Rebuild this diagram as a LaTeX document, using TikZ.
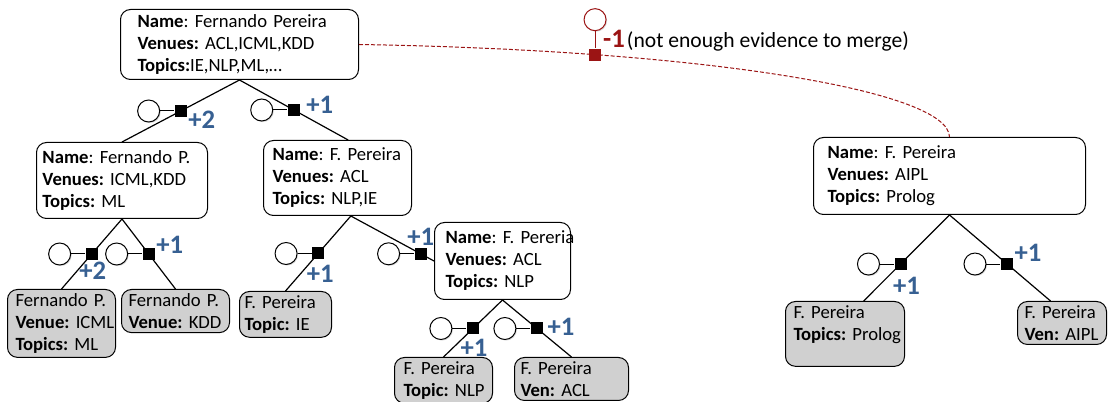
\documentclass[tikz,border=0pt]{standalone}
\usepackage{fontspec}
\setmainfont{Carlito}
\usetikzlibrary{positioning,shadows}
\definecolor{numblue}{RGB}{55,96,146}
\definecolor{mergered}{RGB}{155,20,20}
\definecolor{leafgray}{RGB}{208,208,208}
\hyphenpenalty=10000
\exhyphenpenalty=10000
\begin{document}
\begin{tikzpicture}[x=0.75pt, y=-0.75pt,
  every node/.style={font=\fontsize{14}{16.5}\selectfont},
  ent/.style 2 args={draw, line width=0.75pt, rounded corners=7.5pt, fill=white,
    anchor=north west, align=left, text width=#1, inner xsep=#2, inner ysep=3pt},
  leaf/.style 2 args={ent={#1}{#2}, fill=leafgray},
  fac/.style={rectangle, fill=black, minimum size=9pt, inner sep=0pt},
  var/.style={circle, draw, fill=white, line width=0.75pt, minimum size=16.5pt, inner sep=0pt,
    drop shadow={shadow xshift=0.8pt, shadow yshift=-0.8pt, opacity=0.3}},
  num/.style={font=\fontsize{20}{20}\selectfont\bfseries, text=numblue, inner sep=0pt},
  edge/.style={line width=0.9pt}]
  \useasboundingbox (0,0) rectangle (1108,402);

  % --- Entity boxes (positions chosen to match the drawing) ---
  \node[ent={153pt}{12.75pt}, minimum height=52.5pt] (root) at (120,9)
    {\textbf{Name}:~Fernando~Pereira\\ \textbf{Venues:}~ACL,ICML,KDD\\ \textbf{Topics:}IE,NLP,ML,…};
  \node[ent={119.25pt}{4.5pt}, minimum height=57pt] (lc) at (36,142)
    {\textbf{Name}:~Fernando~P.\\ \textbf{Venues:}~ICML,KDD\\ \textbf{Topics:}~ML};
  \node[ent={97.5pt}{6.75pt}, minimum height=56.25pt] (rc) at (263,140)
    {\textbf{Name}:~F.~Pereira\\ \textbf{Venues:}~ACL\\ \textbf{Topics:}~NLP,IE};
  \node[ent={85.5pt}{8.25pt}, minimum height=57.75pt] (sub) at (434,222)
    {\textbf{Name}:~F.~Pereria\\ \textbf{Venues:}~ACL\\ \textbf{Topics:}~NLP};
  \node[ent={183pt}{10.5pt}, minimum height=57.75pt] (rt) at (813,137)
    {\textbf{Name}:~F.~Pereira\\ \textbf{Venues:}~AIPL\\ \textbf{Topics:}~Prolog};

  % --- Leaves ---
  \node[leaf={69pt}{6pt}] (l1) at (7,289)
    {Fernando~P.\\ \textbf{Venue:}~ICML\\ \textbf{Topics:}~ML};
  \node[leaf={70.5pt}{5.25pt}] (l2) at (121,289)
    {Fernando~P.\\ \textbf{Venue:}~KDD};
  \node[leaf={61.5pt}{3.75pt}] (l3) at (239,291)
    {F.~Pereira\\ \textbf{Topic:}~IE};
  \node[leaf={60pt}{6.75pt}] (l4) at (394,357)
    {F.~Pereira\\ \textbf{Topic:}~NLP};
  \node[leaf={76.5pt}{4.5pt}] (l5) at (514,357)
    {F.~Pereira\\ \textbf{Ven:}~ACL};
  \node[leaf={77.25pt}{6pt}] (l6) at (785,301)
    {F.~Pereira\\ \textbf{Topics:}~Prolog\\ \mbox{}};
  \node[leaf={56.25pt}{5.25pt}] (l7) at (1017,301)
    {F.~Pereira\\ \textbf{Ven:}~AIPL};

  % --- Edges with factors ---
  \draw[edge] (root.south) -- node[fac, label={[num, shift={(21,9)}]center:+2}] (f1) {} (lc.north);
  \draw[edge] (root.south) -- node[fac, label={[num, shift={(26,-5)}]center:+1}] (f2) {} ([xshift=8pt]rc.north);
  \draw[edge] (lc.south) -- node[fac, label={[num, shift={(1,17)}]center:+2}] (f3) {} (l1.north);
  \draw[edge] (lc.south) -- node[fac, label={[num, shift={(21,-9)}]center:+1}] (f4) {} (l2.north);
  \draw[edge] ([xshift=10pt]rc.south) -- node[fac, label={[num, shift={(2,20)}]center:+1}] (f5) {} (l3.north);
  \draw[edge] ([xshift=10pt]rc.south) -- node[pos=0.84, fac, label={[num, shift={(0,-17)}]center:+1}] (f6) {} (sub.west);
  \draw[edge] (sub.south) -- node[fac, label={[num, shift={(1,19)}]center:+1}] (f7) {} (l4.north);
  \draw[edge] (sub.south) -- node[fac, label={[num, shift={(24,-2)}]center:+1}] (f8) {} (l5.north);
  \draw[edge] (rt.south) -- node[pos=0.57, fac, label={[num, shift={(6,22)}]center:+1}] (f9) {} ([xshift=14pt]l6.north);
  \draw[edge] (rt.south) -- node[pos=0.57, fac, label={[num, shift={(21,-11)}]center:+1}] (f10) {} ([xshift=-8.6pt]l7.north);

  % --- Variables ---
  \node[var, left=10.5pt of f1] (v1) {};
  \node[var, left=10.5pt of f2] (v2) {};
  \node[var, left=10.5pt of f3] (v3) {};
  \node[var, left=10.5pt of f4] (v4) {};
  \node[var, left=10.5pt of f5] (v5) {};
  \node[var, left=10.5pt of f6] (v6) {};
  \node[var, left=10.5pt of f7] (v7) {};
  \node[var, left=10.5pt of f8] (v8) {};
  \node[var, left=10.5pt of f9] (v9) {};
  \node[var, left=10.5pt of f10] (v10) {};
  \foreach \i in {1,...,10} \draw[line width=0.75pt] (v\i) -- (f\i);

  % --- Merge link ---
  \draw[mergered, line width=0.75pt, dash pattern=on 3pt off 1.5pt]
    (root.east) .. controls (700,50) and (949,90) ..
    node[pos=0.25, fac, fill=mergered, solid,
         label={[num, text=mergered, name=m1, shift={(19,-16)}]center:-1}] (fr) {} (rt.north);
  \node[var, draw=mergered, above=12.75pt of fr] (vr) {};
  \draw[mergered, line width=0.75pt] (vr) -- (fr);
  \node[anchor=base west, inner sep=0pt, font=\fontsize{16.2}{18}\selectfont] (why)
    at ([xshift=1pt]m1.base east) {(not enough evidence to merge)};
\end{tikzpicture}
\end{document}
